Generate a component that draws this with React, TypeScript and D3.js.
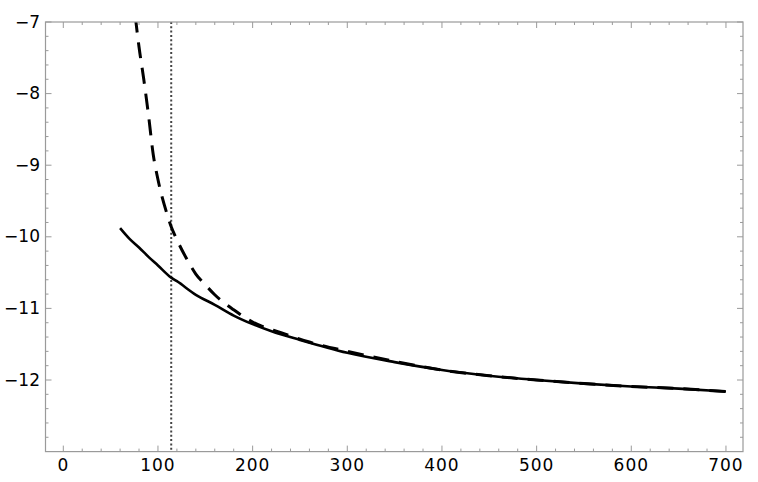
import React from "react";
import * as d3 from "d3";

// curve values
const solidX = [60, 70, 80, 90, 100, 114, 120, 140, 160, 180, 200, 220, 250, 300, 350, 400, 450, 500, 550, 600, 650, 700];
const solidY = [-9.88, -10.03, -10.15, -10.28, -10.4, -10.57, -10.62, -10.81, -10.95, -11.1, -11.22, -11.32, -11.44, -11.62, -11.75, -11.86, -11.94, -12.0, -12.05, -12.09, -12.12, -12.16];

const dashedX = [70, 75, 80, 85, 90, 95, 100, 110, 114, 120, 130, 140, 150, 160, 180, 200, 230, 260, 300, 350, 400, 450, 500, 550, 600, 650, 700];
const dashedY = [-6.2, -6.8, -7.35, -7.8, -8.3, -8.85, -9.2, -9.7, -9.86, -10.04, -10.3, -10.52, -10.67, -10.81, -11.02, -11.19, -11.34, -11.47, -11.6, -11.74, -11.86, -11.94, -12.0, -12.05, -12.09, -12.12, -12.16];

const markerX = 114;

const xMajor = [0, 100, 200, 300, 400, 500, 600, 700];
const yMajor = [-7, -8, -9, -10, -11, -12];

const W = 758;
const H = 482;
const frame = { left: 45.5, right: 743, top: 22, bottom: 451.6 };

export default function App() {
  const x = d3.scaleLinear().domain([-18.8, 718]).range([frame.left, frame.right]);
  const y = d3.scaleLinear().domain([-13, -7]).range([frame.bottom, frame.top]);

  const xMinor = d3.range(0, 701, 20).filter((v) => v % 100 !== 0);
  const yMinor = d3
    .range(-13, -6.99, 0.2)
    .map((v) => +v.toFixed(1))
    .filter((v) => Math.abs(v - Math.round(v)) > 0.01);

  const solidPath = d3
    .line<number>()
    .x((d) => x(d))
    .y((d, i) => y(solidY[i]))
    .curve(d3.curveMonotoneX)(solidX);
  const dashedPath = d3
    .line<number>()
    .x((d) => x(d))
    .y((d, i) => y(dashedY[i]))
    .curve(d3.curveMonotoneX)(dashedX);

  const fmt = d3.format("d");
  const frameColor = "#9a9a9a";

  return (
    <svg width={W} height={H} style={{ position: "absolute", left: 0, top: 0, background: "white" }}>
      <defs>
        <clipPath id="plot">
          <rect x={frame.left} y={frame.top} width={frame.right - frame.left} height={frame.bottom - frame.top} />
        </clipPath>
      </defs>

      <g clipPath="url(#plot)">
        <line x1={x(markerX)} x2={x(markerX)} y1={frame.top} y2={frame.bottom} stroke="#444" strokeWidth={2} strokeDasharray="2,2.3" />
        <path d={dashedPath || ""} fill="none" stroke="black" strokeWidth={3} strokeDasharray="16,10" />
        <path d={solidPath || ""} fill="none" stroke="black" strokeWidth={2.6} />
      </g>

      {/* frame */}
      <rect x={frame.left} y={frame.top} width={frame.right - frame.left} height={frame.bottom - frame.top} fill="none" stroke={frameColor} strokeWidth={1.2} />

      {/* x ticks, bottom and top */}
      {xMajor.map((v) => (
        <g key={"xm" + v} stroke={frameColor} strokeWidth={1}>
          <line x1={x(v)} x2={x(v)} y1={frame.bottom} y2={frame.bottom - 6} />
          <line x1={x(v)} x2={x(v)} y1={frame.top} y2={frame.top + 6} />
        </g>
      ))}
      {xMinor.map((v) => (
        <g key={"xn" + v} stroke={frameColor} strokeWidth={1}>
          <line x1={x(v)} x2={x(v)} y1={frame.bottom} y2={frame.bottom - 3} />
          <line x1={x(v)} x2={x(v)} y1={frame.top} y2={frame.top + 3} />
        </g>
      ))}

      {/* y ticks, left and right */}
      {yMajor.map((v) => (
        <g key={"ym" + v} stroke={frameColor} strokeWidth={1}>
          <line x1={frame.left} x2={frame.left + 6} y1={y(v)} y2={y(v)} />
          <line x1={frame.right} x2={frame.right - 6} y1={y(v)} y2={y(v)} />
        </g>
      ))}
      {yMinor.map((v) => (
        <g key={"yn" + v} stroke={frameColor} strokeWidth={1}>
          <line x1={frame.left} x2={frame.left + 3} y1={y(v)} y2={y(v)} />
          <line x1={frame.right} x2={frame.right - 3} y1={y(v)} y2={y(v)} />
        </g>
      ))}

      {/* labels */}
      <g fontFamily="DejaVu Sans" fontSize={17} fill="black">
        {xMajor.map((v) => (
          <text key={"xl" + v} x={x(v)} y={471} textAnchor="middle" letterSpacing={1}>
            {fmt(v)}
          </text>
        ))}
        {yMajor.map((v) => (
          <text key={"yl" + v} x={40} y={y(v) + 5.5} textAnchor="end">
            {"\u2212" + Math.abs(v)}
          </text>
        ))}
      </g>
    </svg>
  );
}
